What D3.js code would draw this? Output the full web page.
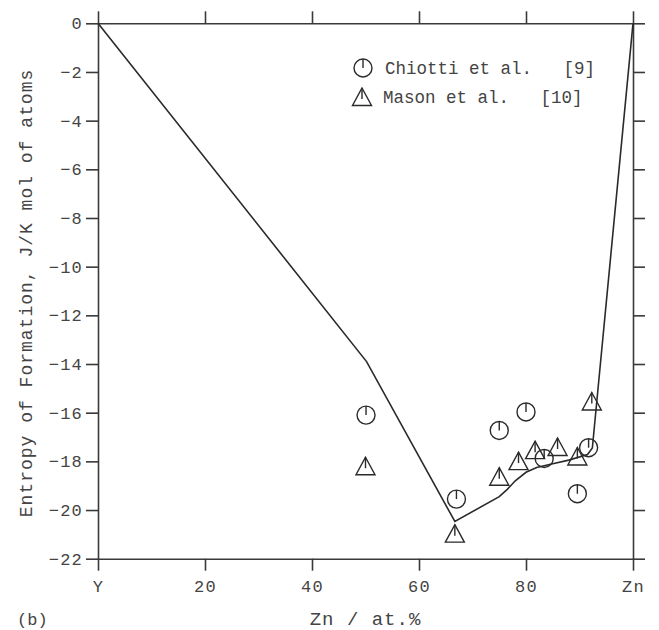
<!DOCTYPE html>
<html>
<head>
<meta charset="utf-8">
<script src="https://cdn.jsdelivr.net/npm/d3@7"></script>
<style>
  html, body { margin: 0; padding: 0; background: #fff; }
  text { font-family: "Liberation Mono", "Courier New", monospace; fill: #444; }
</style>
</head>
<body>
<div id="page"></div>
<script>
(function() {

  "use strict";

  var d3 = window.d3;

  // calculated curve (Zn at.%, entropy)
  var line_x = [ 0, 50.2, 66.7, 75, 76.5, 78, 80, 82, 85, 88, 91.5, 92.4, 100 ],
    line_y = [ 0, -13.9, -20.47, -19.45, -19.15, -18.8, -18.45, -18.25, -18.1, -17.95, -17.72, -17.45, 0 ];

  // Chiotti et al. [9]
  var chiotti_x = [ 50.1, 67.0, 75.0, 80.0, 83.4, 89.6, 91.7 ],
    chiotti_y = [ -16.1, -19.55, -16.73, -15.97, -17.88, -19.33, -17.44 ];

  // Mason et al. [10]
  var mason_x = [ 50.0, 66.7, 75.0, 78.6, 81.7, 85.9, 89.6, 92.3 ],
    mason_y = [ -18.2, -20.97, -18.63, -17.99, -17.54, -17.41, -17.8, -15.54 ];

  var x_ticks = [ 0, 20, 40, 60, 80, 100 ],
    x_tick_labels = [ "Y", "20", "40", "60", "80", "Zn" ],
    y_ticks = d3.range( 0, -23, -2 );

  /* * * * * * * * * * * * * * * * * * * */

  var w = 659,
    h = 630,
    left = 98,
    right = 633,
    top = 23.3,
    bottom = 558.7,
    ink = "#2a2a2a";

  var svg = d3.select( "#page" ).append( "svg" )
    .attr( "width", w )
    .attr( "height", h );

  var x = d3.scaleLinear().domain( [ 0, 100 ] ).range( [ left, right ] ),
    y = d3.scaleLinear().domain( [ 0, -22 ] ).range( [ top, bottom ] );

  /* * * * * * * * * * * * * * * * * * * */

  function style_axis( g ) {
    g.selectAll( "path, line" )
      .attr( "stroke", "#3a3a3a" )
      .attr( "stroke-width", 1.6 );
    g.selectAll( "text" )
      .attr( "font-family", "Liberation Mono, Courier New, monospace" )
      .attr( "font-size", 17 )
      .attr( "letter-spacing", 1.2 )
      .attr( "fill", "#444" );
  }

  svg.append( "g" )
    .attr( "transform", "translate(" + left + ",0)" )
    .call( d3.axisLeft( y ).tickValues( y_ticks ).tickSize( 12 ).tickSizeOuter( 0 ).tickPadding( 3 ) )
    .call( style_axis );

  svg.append( "g" )
    .attr( "transform", "translate(" + right + ",0)" )
    .call( d3.axisRight( y ).tickValues( y_ticks ).tickSize( 12 ).tickSizeOuter( 0 ).tickFormat( "" ) )
    .call( style_axis );

  svg.append( "g" )
    .attr( "transform", "translate(0," + top + ")" )
    .call( d3.axisTop( x ).tickValues( x_ticks ).tickSize( 12 ).tickSizeOuter( 0 ).tickFormat( "" ) )
    .call( style_axis );

  svg.append( "g" )
    .attr( "transform", "translate(0," + bottom + ")" )
    .call( d3.axisBottom( x ).tickValues( x_ticks ).tickSize( 12 ).tickSizeOuter( 0 ).tickPadding( 9 )
      .tickFormat( function( d, i ) { return x_tick_labels[ i ]; } ) )
    .call( style_axis );

  /* * * * * * * * * * * * * * * * * * * */

  var curve = d3.line()
    .x( function( d ) { return x( d[0] ); } )
    .y( function( d ) { return y( d[1] ); } );

  svg.append( "path" )
    .datum( d3.zip( line_x, line_y ) )
    .attr( "d", curve )
    .attr( "fill", "none" )
    .attr( "stroke", ink )
    .attr( "stroke-width", 1.6 );

  /* * * * * * * * * * * * * * * * * * * */

  var r = 9;

  function draw_circle( g ) {
    g.append( "circle" )
      .attr( "r", r )
      .attr( "fill", "none" )
      .attr( "stroke", ink )
      .attr( "stroke-width", 1.4 );
    g.append( "line" )
      .attr( "x1", 0 ).attr( "y1", -r )
      .attr( "x2", 0 ).attr( "y2", 0 )
      .attr( "stroke", ink )
      .attr( "stroke-width", 1.4 );
  }

  function draw_triangle( g ) {
    g.append( "path" )
      .attr( "d", "M0,-9L9.5,8.5L-9.5,8.5Z" )
      .attr( "fill", "none" )
      .attr( "stroke", ink )
      .attr( "stroke-width", 1.4 )
      .attr( "stroke-linejoin", "miter" );
    g.append( "line" )
      .attr( "x1", 0 ).attr( "y1", -9 )
      .attr( "x2", 0 ).attr( "y2", 2 )
      .attr( "stroke", ink )
      .attr( "stroke-width", 1.4 );
  }

  svg.append( "g" ).selectAll( "g" )
    .data( d3.zip( chiotti_x, chiotti_y ) )
    .enter().append( "g" )
    .attr( "transform", function( d ) { return "translate(" + x( d[0] ) + "," + y( d[1] ) + ")"; } )
    .each( function() { draw_circle( d3.select( this ) ); } );

  svg.append( "g" ).selectAll( "g" )
    .data( d3.zip( mason_x, mason_y ) )
    .enter().append( "g" )
    .attr( "transform", function( d ) { return "translate(" + x( d[0] ) + "," + y( d[1] ) + ")"; } )
    .each( function() { draw_triangle( d3.select( this ) ); } );

  /* * * * * * * * * * * * * * * * * * * */

  // legend
  var legend = svg.append( "g" );

  legend.append( "g" )
    .attr( "transform", "translate(363,68)" )
    .call( draw_circle );

  legend.append( "g" )
    .attr( "transform", "translate(362,97)" )
    .call( draw_triangle );

  legend.append( "text" )
    .attr( "x", 385 )
    .attr( "y", 74 )
    .attr( "font-size", 17.5 )
    .style( "white-space", "pre" )
    .text( "Chiotti et al.   [9]" );

  legend.append( "text" )
    .attr( "x", 383 )
    .attr( "y", 103 )
    .attr( "font-size", 17.5 )
    .style( "white-space", "pre" )
    .text( "Mason et al.   [10]" );

  /* * * * * * * * * * * * * * * * * * * */

  svg.append( "text" )
    .attr( "transform", "translate(32," + ( ( top + bottom ) / 2 + 2 ) + ") rotate(-90)" )
    .attr( "text-anchor", "middle" )
    .attr( "font-size", 18 )
    .attr( "letter-spacing", 1 )
    .style( "white-space", "pre" )
    .text( "Entropy of Formation, J/K mol of atoms" );

  svg.append( "text" )
    .attr( "x", ( left + right ) / 2 )
    .attr( "y", 625 )
    .attr( "text-anchor", "middle" )
    .attr( "font-size", 19 )
    .attr( "letter-spacing", 1 )
    .style( "white-space", "pre" )
    .text( "Zn / at.%" );

  svg.append( "text" )
    .attr( "x", 17 )
    .attr( "y", 625 )
    .attr( "font-size", 17 )
    .text( "(b)" );

})();
</script>
</body>
</html>
